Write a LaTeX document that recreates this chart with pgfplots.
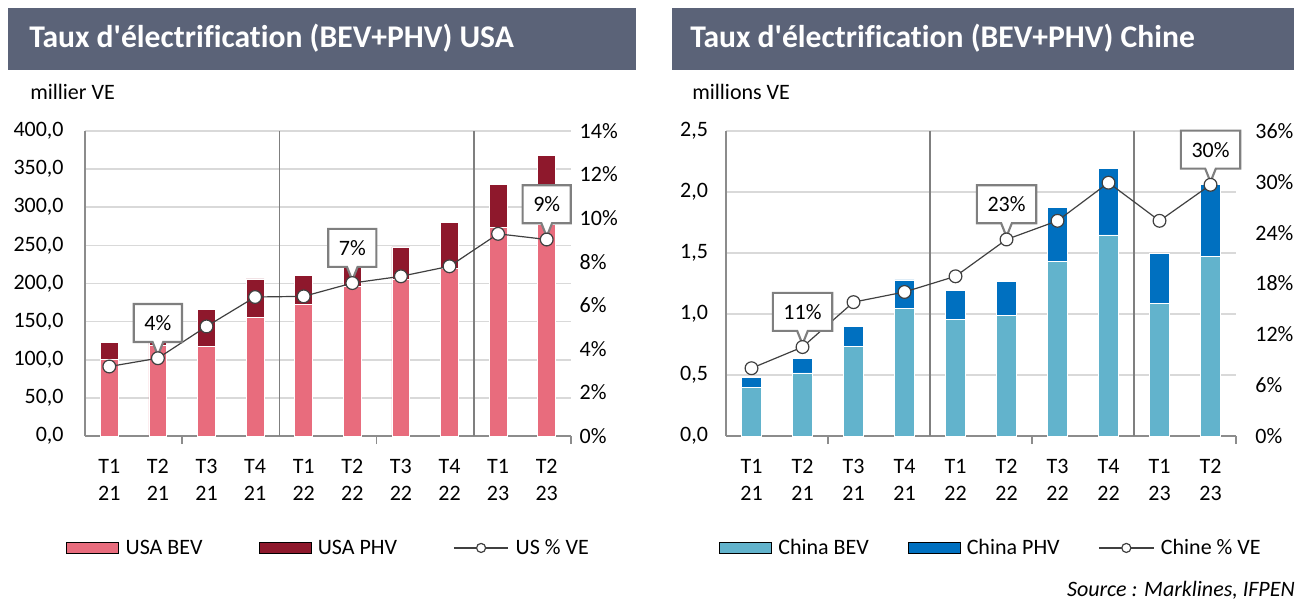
\documentclass[border=0pt]{standalone}
\usepackage{fontspec}
\setmainfont{Carlito}[Ligatures={TeX,NoCommon}]
\usepackage{pgfplots}
\pgfplotsset{compat=1.18}
\usetikzlibrary{shapes.callouts}
\definecolor{titlebg}{HTML}{5B6378}
\definecolor{usabev}{HTML}{E86C7D}
\definecolor{usaphv}{HTML}{8E182C}
\definecolor{cnbev}{HTML}{62B3CC}
\definecolor{cnphv}{HTML}{0070C0}
\definecolor{gridc}{HTML}{D9D9D9}
\definecolor{axisc}{HTML}{8C8C8C}
\definecolor{sepc}{HTML}{7F7F7F}
\definecolor{linec}{HTML}{404040}
\newcommand{\fs}{\fontsize{16.5}{20.25}\selectfont}

\pgfplotsset{
  barleg/.style={legend image code/.code={\fill[##1] (0pt,-4.25pt) rectangle (39pt,4.25pt);}},
  lineleg/.style={legend image code/.code={\draw[mark repeat=2,mark phase=2,##1] plot coordinates {(0pt,0pt) (20.5pt,0pt) (41pt,0pt)};}},
  barax/.style={
    scale only axis, height=228.75pt, anchor=south west,
    ybar stacked, ymin=0,
    xmin=-0.5, xmax=9.5,
    xtick={0,...,9},
    xticklabels={{T1\\21},{T2\\21},{T3\\21},{T4\\21},{T1\\22},{T2\\22},{T3\\22},{T4\\22},{T1\\23},{T2\\23}},
    xticklabel style={align=center, font=\fs, yshift=-14pt},
    minor xtick={1.5,5.5,9.5},
    extra x ticks={3.5,7.5},
    extra x tick labels={},
    extra x tick style={grid=major, major grid style={draw=sepc, line width=1.1pt}},
    major tick length=0pt, minor tick length=6pt,
    tick align=outside,
    axis x line*=bottom, axis y line*=left,
    axis line style={draw=axisc, line width=1.3pt, -},
    ymajorgrids, grid style={draw=gridc, line width=1.3pt},
    minor tick style={draw=axisc, line width=1.3pt},
    yticklabel style={font=\fs},
    /pgf/number format/fixed, /pgf/number format/fixed zerofill,
    /pgf/number format/precision=1, /pgf/number format/use comma,
    /pgf/number format/assume math mode=true,
    every axis plot/.append style={draw=white, line width=0.6pt},
  },
  lineax/.style={
    scale only axis, height=228.75pt, anchor=south west,
    xmin=-0.5, xmax=9.5, ymin=0, clip=false,
    hide x axis,
    axis y line*=right,
    axis line style={draw=none},
    major tick length=0pt,
    yticklabel style={font=\fs},
    yticklabel={\pgfmathprintnumber[assume math mode=true]{\tick}\%},
    legend style={anchor=center, legend columns=3, draw=none, fill=none, font=\fs,
      /tikz/every odd column/.append style={column sep=3pt}},
    legend cell align=left,
  },
  callouts/.style={
    draw=none, mark=none,
    nodes near coords, point meta=explicit symbolic,
    nodes near coords align={anchor=pointer},
    every node near coord/.append style={rectangle callout, callout relative pointer={(0pt,-10pt)}, callout pointer width=8pt, fill=white, draw=sepc, line width=1.6pt, font=\fs, minimum height=28.5pt, inner xsep=8pt, text=black},
  },
  lineser/.style={draw=linec, line width=0.9pt, mark=*, mark size=4.8pt,
    mark options={fill=white, draw=linec, line width=0.9pt},
    lineleg, legend image post style={mark size=3.4pt}},
}

\begin{document}
\begin{tikzpicture}[x=0.75pt,y=-0.75pt]
\useasboundingbox (0,0) rectangle (1303,600);
\fill[titlebg] (8,8) rectangle (636,70);
\fill[titlebg] (672,8) rectangle (1294,70);
\node[anchor=west, text=white, font=\fontsize{23.7}{28}\selectfont\bfseries, inner sep=0pt] at (29,38) {Taux d\textquotesingle électrification (BEV+PHV) USA};
\node[anchor=west, text=white, font=\fontsize{23.7}{28}\selectfont\bfseries, inner sep=0pt] at (690,38) {Taux d\textquotesingle électrification (BEV+PHV) Chine};
\node[anchor=west, font=\fs, inner sep=0pt] at (30,92) {millier VE};
\node[anchor=west, font=\fs, inner sep=0pt] at (692,92) {millions VE};
\node[anchor=east, font=\fs\itshape, inner sep=0pt] at (1295,590) {Source : Marklines, IFPEN};

% ---------- USA ----------
\begin{axis}[barax, at={(63.75pt,-327pt)}, width=364.5pt, bar width=13.4pt,
  ymax=400, ytick={0,50,...,400}, yticklabel style={xshift=-12.5pt}]
\addplot[fill=usabev] coordinates {(0,100) (1,119) (2,118) (3,155) (4,172) (5,196) (6,205) (7,220) (8,274) (9,278)};
\addplot[fill=usaphv] coordinates {(0,23) (1,26) (2,48) (3,51) (4,39) (5,42) (6,43) (7,60) (8,56) (9,90)};
\end{axis}
\begin{axis}[lineax, at={(63.75pt,-327pt)}, width=364.5pt,
  ymax=14, ytick={0,2,...,14}, yticklabel style={xshift=3pt},
  legend style={at={(0.502,-0.367)}, /tikz/every even column/.append style={column sep=40pt}}]
\addlegendimage{barleg, fill=usabev}
\addlegendentry{USA BEV}
\addlegendimage{barleg, fill=usaphv}
\addlegendentry{USA PHV}
\addplot[callouts, forget plot] coordinates {(1,3.57) [4\%] (5,7.02) [7\%] (9,9.02) [9\%]};
\addplot[lineser] coordinates {(0,3.19) (1,3.57) (2,5.03) (3,6.38) (4,6.41) (5,7.02) (6,7.33) (7,7.79) (8,9.28) (9,9.02)};
\addlegendentry{US \% VE}
\end{axis}

% ---------- Chine ----------
\begin{axis}[barax, at={(544.5pt,-327pt)}, width=382.5pt, bar width=14.6pt,
  ymax=2.5, ytick={0,0.5,...,2.5}, yticklabel style={xshift=-10pt}]
\addplot[fill=cnbev] coordinates {(0,0.400) (1,0.517) (2,0.737) (3,1.046) (4,0.953) (5,0.991) (6,1.429) (7,1.648) (8,1.090) (9,1.470)};
\addplot[fill=cnphv] coordinates {(0,0.079) (1,0.116) (2,0.158) (3,0.233) (4,0.238) (5,0.277) (6,0.447) (7,0.542) (8,0.410) (9,0.590)};
\end{axis}
\begin{axis}[lineax, at={(544.5pt,-327pt)}, width=382.5pt,
  ymax=36, ytick={0,6,...,36}, yticklabel style={xshift=11pt},
  legend style={at={(0.52,-0.367)}, /tikz/every even column/.append style={column sep=27pt}}]
\addlegendimage{barleg, fill=cnbev}
\addlegendentry{China BEV}
\addlegendimage{barleg, fill=cnphv}
\addlegendentry{China PHV}
\addplot[callouts, forget plot] coordinates {(1,10.5) [11\%] (5,23.2) [23\%] (9,29.65) [30\%]};
\addplot[lineser] coordinates {(0,8.0) (1,10.5) (2,15.8) (3,17.0) (4,18.85) (5,23.2) (6,25.4) (7,29.9) (8,25.4) (9,29.65)};
\addlegendentry{Chine \% VE}
\end{axis}
\end{tikzpicture}
\end{document}
